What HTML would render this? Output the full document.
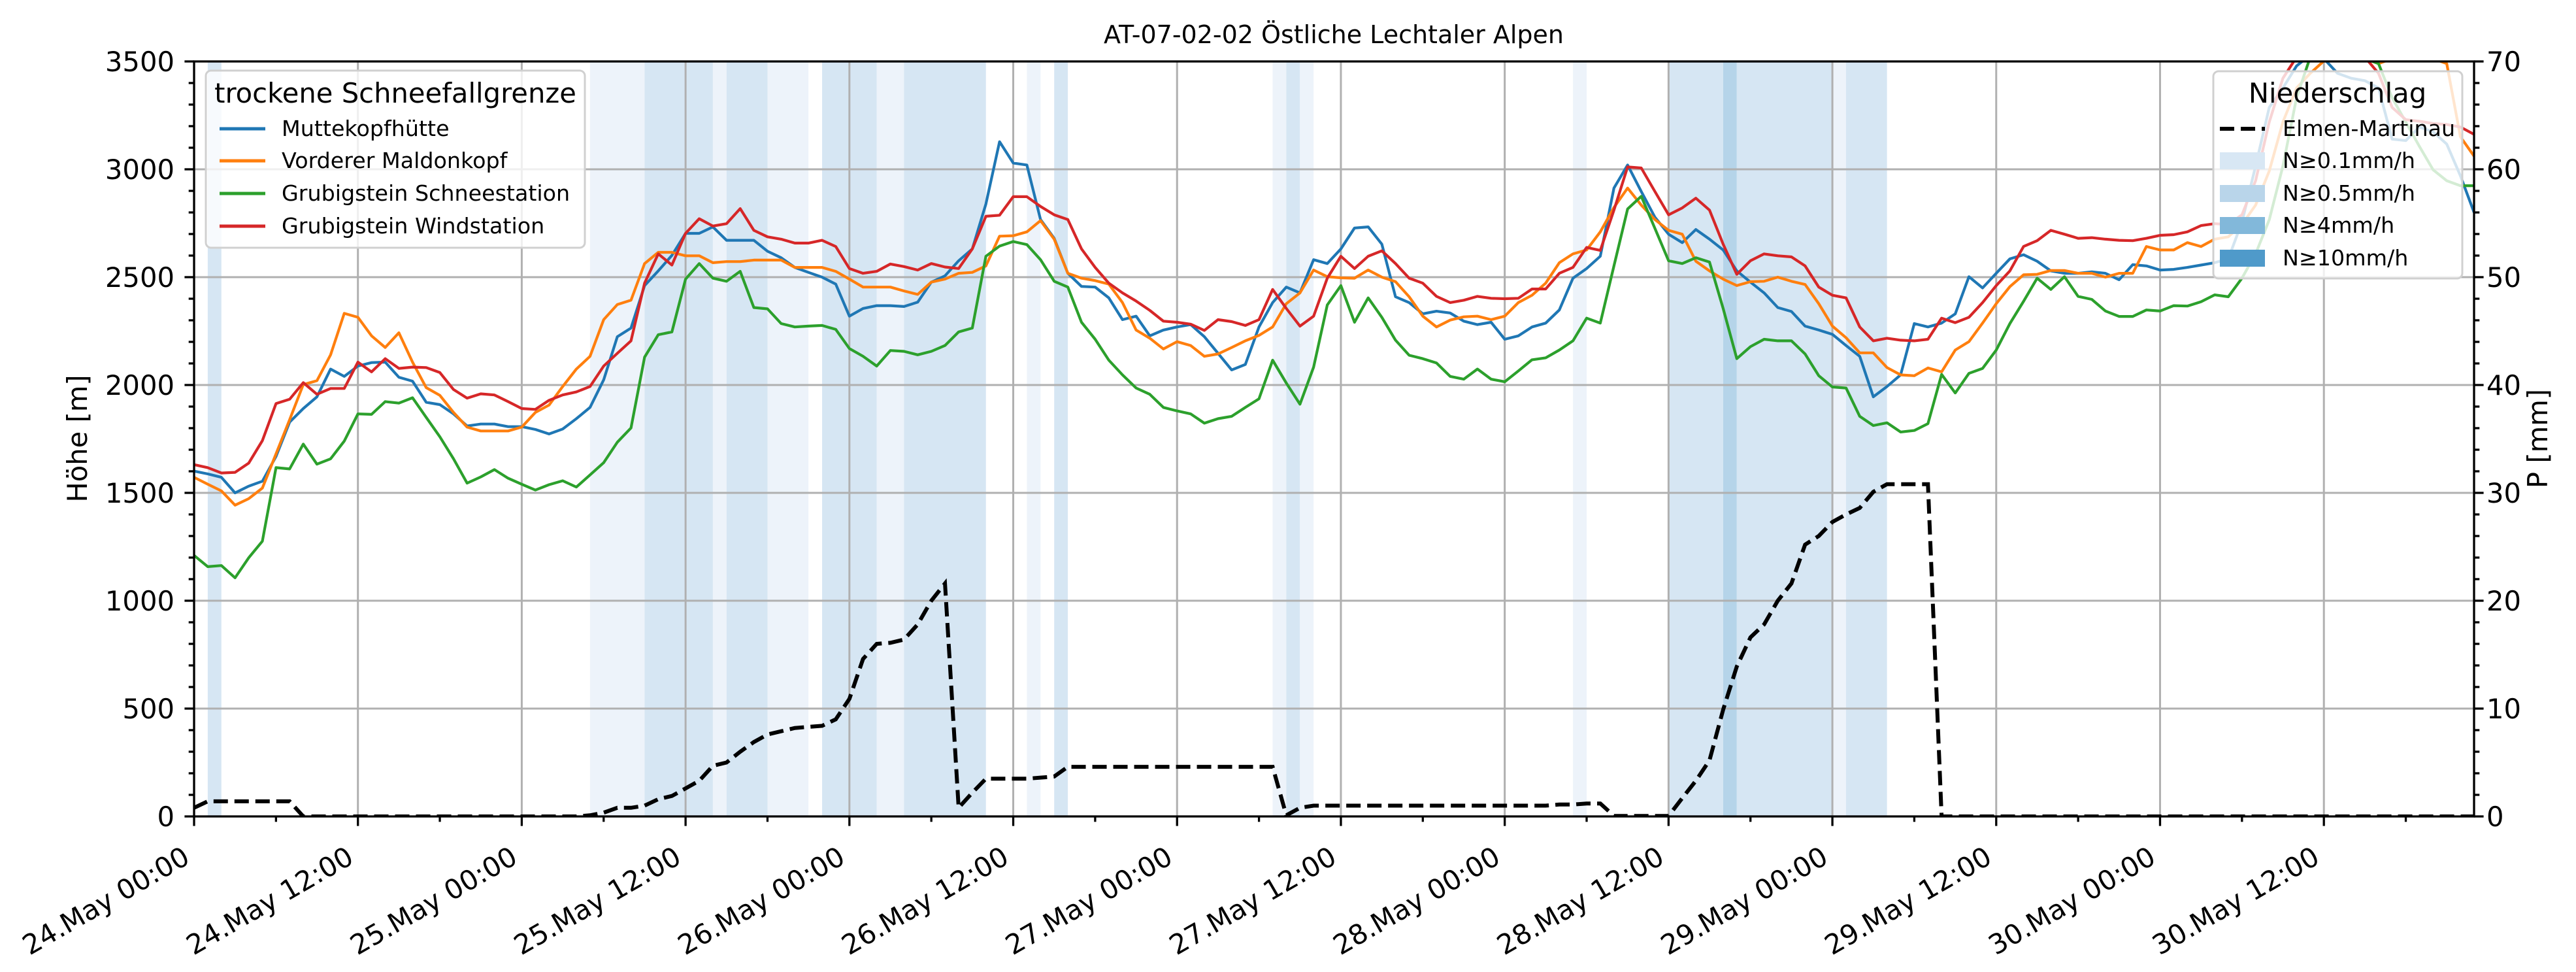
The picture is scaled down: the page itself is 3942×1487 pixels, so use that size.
<!DOCTYPE html>
<html><head><meta charset="utf-8"><style>
html,body{margin:0;padding:0;background:#fff;}
svg{display:block;font-family:"DejaVu Sans","Liberation Sans",sans-serif;}
</style></head><body>
<svg id="chart" width="3942" height="1487" viewBox="0 0 3942 1487" xmlns="http://www.w3.org/2000/svg">
<defs><clipPath id="plotclip"><rect x="297" y="94" width="3489" height="1155"/></clipPath></defs>
<g id="bands" clip-path="url(#plotclip)"></g>
<g id="grid"></g>
<g id="series" clip-path="url(#plotclip)"></g>
<g id="axes"></g>
<text x="2041" y="66" text-anchor="middle" font-size="38">AT-07-02-02 Östliche Lechtaler Alpen</text>
<text transform="translate(133,671) rotate(-90)" text-anchor="middle" font-size="41.7">Höhe [m]</text>
<text transform="translate(3898,671) rotate(-90)" text-anchor="middle" font-size="41.7">P [mm]</text>
<g id="legend-left">
<rect x="315" y="108" width="580" height="271" rx="8" fill="rgba(255,255,255,0.8)" stroke="#d0d0d0" stroke-width="3"/>
<text x="605" y="157" text-anchor="middle" font-size="41.7">trockene Schneefallgrenze</text>
<line x1="336" y1="197" x2="406" y2="197" stroke="#1f77b4" stroke-width="5"/>
<text x="431" y="208" font-size="33.3">Muttekopfhütte</text>
<line x1="336" y1="246" x2="406" y2="246" stroke="#ff7f0e" stroke-width="5"/>
<text x="431" y="257" font-size="33.3">Vorderer Maldonkopf</text>
<line x1="336" y1="296" x2="406" y2="296" stroke="#2ca02c" stroke-width="5"/>
<text x="431" y="307" font-size="33.3">Grubigstein Schneestation</text>
<line x1="336" y1="346" x2="406" y2="346" stroke="#d62728" stroke-width="5"/>
<text x="431" y="357" font-size="33.3">Grubigstein Windstation</text>
</g>
<g id="legend-right">
<rect x="3387" y="109" width="381" height="317" rx="8" fill="rgba(255,255,255,0.8)" stroke="#d0d0d0" stroke-width="3"/>
<text x="3577" y="157" text-anchor="middle" font-size="41.7">Niederschlag</text>
<line x1="3397" y1="197" x2="3466" y2="197" stroke="#000" stroke-width="6" stroke-dasharray="22,10"/>
<text x="3493" y="208" font-size="33.3">Elmen-Martinau</text>
<rect x="3397" y="233" width="69" height="26" fill="#d8e7f4"/>
<text x="3493" y="257" font-size="33.3">N≥0.1mm/h</text>
<rect x="3397" y="283" width="69" height="26" fill="#b9d5ea"/>
<text x="3493" y="307" font-size="33.3">N≥0.5mm/h</text>
<rect x="3397" y="332" width="69" height="26" fill="#82b8da"/>
<text x="3493" y="356" font-size="33.3">N≥4mm/h</text>
<rect x="3397" y="382" width="69" height="26" fill="#4f9aca"/>
<text x="3493" y="406" font-size="33.3">N≥10mm/h</text>
</g>
</svg>
<script>
const xTickLabels = ["24.May 00:00","24.May 12:00","25.May 00:00","25.May 12:00","26.May 00:00","26.May 12:00","27.May 00:00","27.May 12:00","28.May 00:00","28.May 12:00","29.May 00:00","29.May 12:00","30.May 00:00","30.May 12:00"];
const yTicksLeft = [0,500,1000,1500,2000,2500,3000,3500];
const yTicksRight = [0,10,20,30,40,50,60,70];
const muttekopf = [1601,1588,1572,1500,1531,1554,1669,1828,1891,1945,2074,2040,2088,2104,2106,2036,2018,1920,1909,1866,1810,1819,1819,1807,1807,1794,1773,1796,1844,1896,2024,2224,2264,2461,2529,2601,2703,2703,2733,2671,2671,2671,
2620,2590,2545,2522,2500,2468,2319,2355,2368,2368,2364,2384,2477,2506,2576,2631,2839,3128,3029,3020,2767,2680,2518,2457,2454,2404,2303,2319,2228,2255,2269,2280,2224,2147,2070,2095,2269,2382,2454,2427,2581,2563,
2631,2728,2733,2653,2409,2382,2330,2342,2334,2296,2280,2291,2212,2228,2269,2287,2348,2495,2540,2597,2913,3020,2897,2778,2699,2660,2721,2676,2626,2529,2477,2427,2359,2341,2273,2255,2235,2183,2133,1945,1993,2047,
2285,2269,2287,2330,2502,2450,2518,2585,2604,2574,2529,2518,2518,2525,2518,2488,2558,2552,2533,2536,2545,2556,2567,2585,2755,3015,3287,3377,3479,3530,3513,3445,3422,3411,3377,3140,3133,3196,3174,3117,2970,2800];
const maldonkopf = [1572,1540,1509,1443,1473,1522,1681,1839,2002,2020,2140,2332,2314,2228,2174,2242,2106,1988,1952,1873,1805,1787,1787,1787,1805,1873,1907,1993,2074,2133,2303,2373,2393,2563,2615,2615,2599,2599,2567,2572,2572,2579,
2579,2579,2545,2545,2545,2527,2491,2454,2454,2454,2436,2420,2477,2491,2518,2522,2552,2690,2692,2710,2762,2676,2518,2495,2484,2468,2382,2255,2217,2167,2201,2183,2133,2144,2174,2205,2230,2269,2377,2427,2533,2502,
2497,2495,2533,2500,2479,2409,2319,2269,2301,2316,2319,2303,2319,2382,2416,2472,2567,2608,2626,2710,2823,2913,2834,2767,2717,2699,2574,2529,2491,2461,2479,2481,2500,2481,2466,2377,2273,2219,2149,2149,2081,2047,
2043,2079,2061,2162,2201,2287,2377,2456,2511,2513,2531,2531,2518,2518,2500,2518,2518,2642,2626,2626,2660,2642,2676,2687,2744,2834,2992,3219,3377,3445,3502,3513,3520,3513,3490,3513,3530,3513,3513,3490,3151,3061];
const schneestation = [1210,1158,1163,1106,1199,1276,1617,1611,1726,1633,1658,1740,1866,1864,1923,1916,1941,1850,1760,1658,1545,1574,1608,1568,1540,1513,1538,1556,1527,1583,1640,1735,1801,2129,2233,2246,2491,2563,2495,2481,2527,2359,
2353,2285,2269,2273,2276,2258,2169,2133,2088,2160,2156,2140,2156,2183,2246,2264,2597,2644,2665,2651,2581,2481,2454,2291,2212,2115,2047,1986,1957,1896,1880,1866,1823,1844,1855,1896,1936,2115,2009,1911,2083,2371,
2461,2291,2404,2314,2208,2138,2122,2102,2040,2027,2074,2027,2015,2065,2117,2126,2162,2205,2310,2287,2552,2816,2875,2726,2576,2563,2590,2570,2355,2122,2178,2212,2205,2205,2144,2043,1991,1986,1855,1812,1825,1782,
1789,1821,2049,1963,2054,2077,2162,2285,2388,2495,2443,2502,2411,2397,2343,2318,2318,2348,2343,2368,2366,2386,2418,2409,2495,2608,2766,3015,3332,3520,3530,3520,3520,3513,3490,3332,3219,3106,2998,2947,2924,2924];
const windstation = [1631,1617,1592,1595,1638,1742,1914,1934,2011,1957,1984,1984,2106,2061,2122,2077,2083,2081,2058,1979,1939,1959,1954,1923,1891,1887,1929,1954,1968,1993,2088,2147,2205,2472,2608,2556,2703,2771,2737,2748,2818,2717,
2687,2676,2658,2658,2671,2642,2540,2518,2527,2561,2549,2533,2563,2547,2540,2631,2782,2787,2873,2873,2828,2789,2767,2631,2545,2472,2427,2389,2346,2296,2291,2282,2253,2303,2294,2276,2303,2443,2355,2273,2319,2495,
2597,2540,2597,2622,2563,2495,2472,2411,2382,2393,2411,2402,2400,2402,2445,2445,2518,2545,2638,2624,2811,3011,3006,2897,2789,2821,2866,2811,2653,2513,2576,2608,2599,2594,2552,2454,2416,2404,2269,2205,2217,2208,
2205,2212,2310,2289,2314,2382,2461,2529,2642,2669,2717,2699,2680,2683,2676,2671,2669,2680,2694,2697,2710,2739,2748,2744,2789,2947,3219,3422,3520,3530,3520,3513,3520,3520,3445,3287,3230,3223,3212,3208,3196,3162];
const precipElmen = [0.8,1.4,1.4,1.4,1.4,1.4,1.4,1.4,0,0,0,0,0,0,0,0,0,0,0,0,0,0,0,0,0,0,0,0,0,
0.1,0.35,0.8,0.8,1.0,1.6,1.9,2.6,3.3,4.7,5.0,6.0,6.9,7.6,7.9,8.2,8.3,8.4,9.0,10.9,14.6,16.0,16.1,16.4,17.8,20.0,21.6,0.8,2.2,3.5,3.5,3.5,3.5,3.6,3.7,
4.6,4.6,4.6,4.6,4.6,4.6,4.6,4.6,4.6,4.6,4.6,4.6,4.6,4.6,4.6,4.6,
0.1,0.8,
1.0,1.0,1.0,1.0,1.0,1.0,1.0,1.0,1.0,1.0,1.0,1.0,1.0,1.0,1.0,1.0,1.0,1.0,
1.1,1.1,1.2,1.2,
0.05,0.05,0.05,0.05,0.05,
1.7,3.3,5.2,9.9,13.9,16.6,17.8,20.0,21.6,25.2,26.0,27.3,28.0,28.6,30.1,
30.8,30.8,30.8,30.8,
0,0,0,0,0,0,0,0,0,0,0,0,0,0,0,0,0,0,0,0,0,0,0,0,0,0,0,0,0,0,0,0,0,0,0,0,0,0,0,0];
const bandStart = [1,29,33,38,39,42,46,50,52,61,63,79,80,81,101,108,112,113,120,121];
const bandEnd   = [2,33,38,39,42,45,50,52,58,62,64,80,81,82,102,112,113,120,121,124];
const bandLevel = [2,1,2,1,2,1,2,1,2,1,2,1,2,1,1,2,3,2,1,2];

const NS='http://www.w3.org/2000/svg';
const X0=297, X1=3786, Y0=1249, Y1=94, HMAX=167;
function xScale(h){return X0+(X1-X0)*h/HMAX;}
function yLeft(v){return Y0-(Y0-Y1)*v/3500;}
function yRight(p){return Y0-(Y0-Y1)*p/70;}
function mk(tag,attrs,parent){const e=document.createElementNS(NS,tag);for(const k in attrs)e.setAttribute(k,attrs[k]);parent.appendChild(e);return e;}
const bandsG=document.getElementById('bands'), gridG=document.getElementById('grid'), serG=document.getElementById('series'), axG=document.getElementById('axes');
const bandColors={1:'#edf3fa',2:'#d6e6f3',3:'#b5d4e9',4:'#4f9aca'};
bandStart.forEach((s,i)=>{
  const r=mk('rect',{x:xScale(s),y:Y1,width:xScale(bandEnd[i])-xScale(s),height:Y0-Y1,fill:bandColors[bandLevel[i]]},bandsG);
  
  
});
xTickLabels.forEach((t,i)=>{const x=xScale(i*12);
  const l=mk('line',{x1:x,x2:x,y1:Y1,y2:Y0,stroke:'#b0b0b0','stroke-width':3},gridG);
  
  
});
yTicksLeft.forEach(v=>{const y=yLeft(v);
  const l=mk('line',{x1:X0,x2:X1,y1:y,y2:y,stroke:'#b0b0b0','stroke-width':3},gridG);
  
  
});
const seriesList=[[muttekopf,'#1f77b4','line-muttekopfhuette'],[maldonkopf,'#ff7f0e','line-vorderer-maldonkopf'],[schneestation,'#2ca02c','line-grubigstein-schneestation'],[windstation,'#d62728','line-grubigstein-windstation']];
seriesList.forEach(s=>{
  const pts=s[0].map((v,h)=>xScale(h).toFixed(1)+','+yLeft(v).toFixed(1)).join(' ');
  const p=mk('polyline',{points:pts,fill:'none',stroke:s[1],'stroke-width':4.2,'stroke-linejoin':'round'},serG);
  
  
});
{
  const pts=precipElmen.map((v,h)=>xScale(h).toFixed(1)+','+yRight(v).toFixed(1)).join(' ');
  const p=mk('polyline',{points:pts,fill:'none',stroke:'#000','stroke-width':6,'stroke-dasharray':'22,10'},serG);
  
  
}
const sp=mk('rect',{x:X0,y:Y1,width:X1-X0,height:Y0-Y1,fill:'none',stroke:'#000','stroke-width':3.3},axG);


for(let h=0;h<=HMAX;h+=6){const x=xScale(h);const major=h%12===0;
  mk('line',{x1:x,x2:x,y1:Y0,y2:Y0+(major?14.6:8.3),stroke:'#000','stroke-width':3.3},axG);}
xTickLabels.forEach((t,i)=>{const x=xScale(i*12);
  const tx=mk('text',{transform:`translate(${x-4},${Y0+70}) rotate(-30)`,'text-anchor':'end','font-size':41.7},axG);
  tx.textContent=t;
  
  
});
for(let v=0;v<=3500;v+=100){const y=yLeft(v);const major=v%500===0;
  mk('line',{x1:X0,x2:X0-(major?14.6:8.3),y1:y,y2:y,stroke:'#000','stroke-width':3.3},axG);}
yTicksLeft.forEach(v=>{const t=mk('text',{x:267,y:yLeft(v)+15,'text-anchor':'end','font-size':41.7},axG);
  t.textContent=v;
  
  
});
for(let p=0;p<=70;p+=2){const y=yRight(p);const major=p%10===0;
  mk('line',{x1:X1,x2:X1+(major?14.6:8.3),y1:y,y2:y,stroke:'#000','stroke-width':3.3},axG);}
yTicksRight.forEach(p=>{const t=mk('text',{x:3805,y:yRight(p)+15,'text-anchor':'start','font-size':41.7},axG);
  t.textContent=p;
  
  
});
</script>
</body></html>
